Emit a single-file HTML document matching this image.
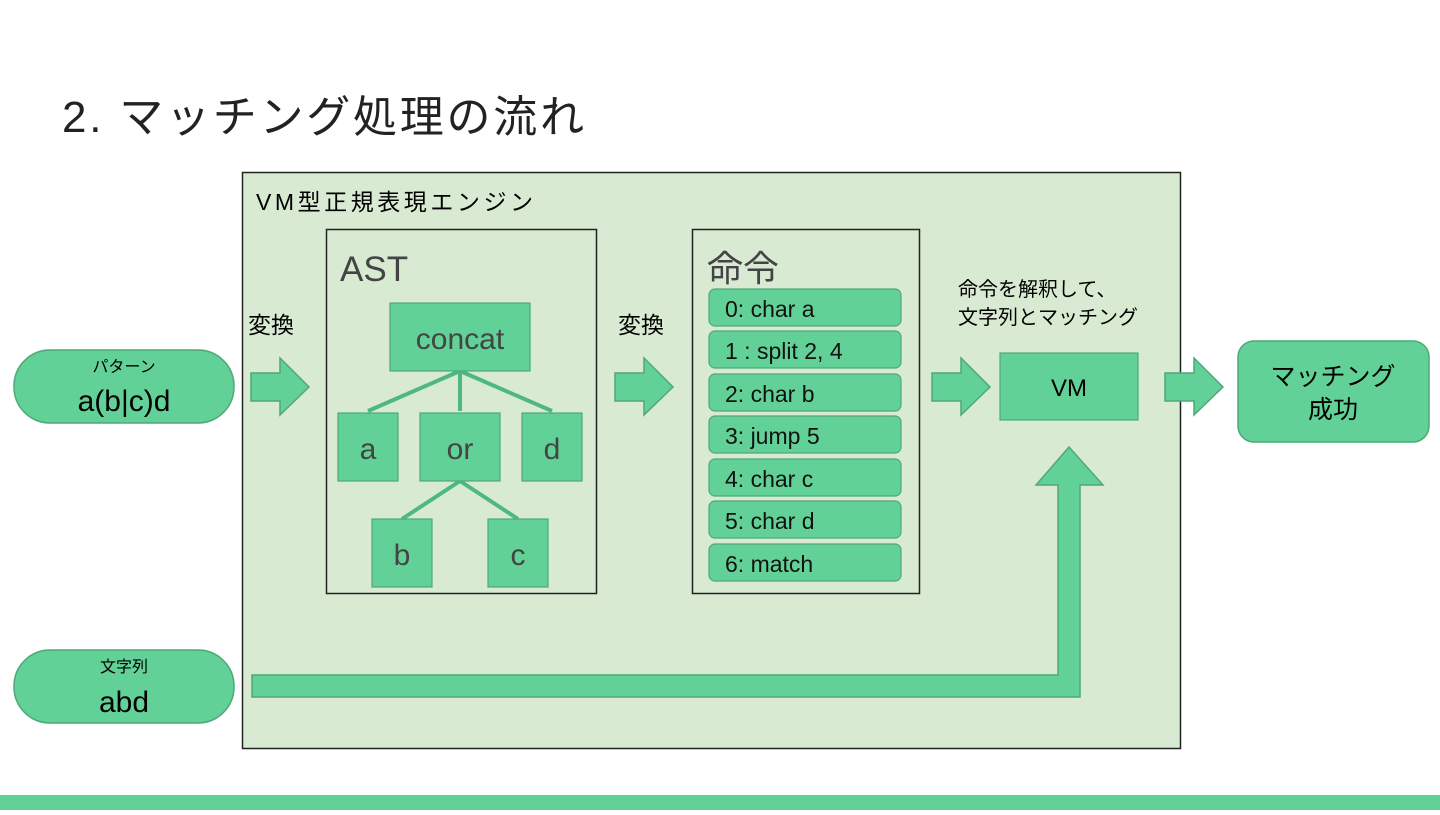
<!DOCTYPE html>
<html><head><meta charset="utf-8"><style>
body{margin:0;width:1440px;height:810px;background:#fff;overflow:hidden}
svg text{font-family:"Liberation Sans","Noto Sans CJK JP",sans-serif}
</style></head><body>
<svg width="1440" height="810" xmlns="http://www.w3.org/2000/svg">
<text x="62" y="132" font-size="44" fill="#222" textLength="522" lengthAdjust="spacing">2. マッチング処理の流れ</text>
<rect x="242.5" y="172.5" width="938" height="576" fill="#d9ead3" stroke="#222" stroke-width="1.5"/>
<text x="256" y="210" font-size="23" fill="#000" textLength="277" lengthAdjust="spacing">VM型正規表現エンジン</text>
<g fill="#62d197" stroke="#4fa878" stroke-width="1.5">
<rect x="14" y="350" width="220" height="73" rx="36"/>
<rect x="14" y="650" width="220" height="73" rx="36"/>
<rect x="1238" y="341" width="191" height="101" rx="16"/>
<path d="M251 373H280V358L309 387L280 415V401H251Z"/>
<path d="M615 373H644V358L673 387L644 415V401H615Z"/>
<path d="M932 373H961V358L990 387L961 415V401H932Z"/>
<path d="M1165 373H1194V358L1223 387L1194 415V401H1165Z"/>
<path d="M252 675H1058V485H1036L1069 447L1103 485H1080V697H252Z"/>
</g>
<text x="124" y="372" font-size="16" text-anchor="middle">パターン</text>
<text x="124" y="411" font-size="30" text-anchor="middle">a(b|c)d</text>
<text x="124" y="672" font-size="16" text-anchor="middle">文字列</text>
<text x="124" y="712" font-size="30" text-anchor="middle">abd</text>
<text x="1333" y="385" font-size="25" text-anchor="middle">マッチング</text>
<text x="1333" y="418" font-size="25" text-anchor="middle">成功</text>
<text x="248" y="333" font-size="23">変換</text>
<text x="618" y="333" font-size="23">変換</text>
<text x="958" y="296" font-size="20">命令を解釈して、</text>
<text x="958" y="324" font-size="20">文字列とマッチング</text>
<rect x="326.5" y="229.5" width="270" height="364" fill="none" stroke="#222" stroke-width="1.5"/>
<text x="340" y="281" font-size="35" fill="#444">AST</text>
<g stroke="#4fb882" stroke-width="4">
<line x1="460" y1="371" x2="368" y2="411"/><line x1="460" y1="371" x2="460" y2="411"/><line x1="460" y1="371" x2="552" y2="411"/>
<line x1="460" y1="481" x2="402" y2="519"/><line x1="460" y1="481" x2="518" y2="519"/>
</g>
<g fill="#62d197" stroke="#4fa878" stroke-width="1.2">
<rect x="390" y="303" width="140" height="68"/>
<rect x="338" y="413" width="60" height="68"/>
<rect x="420" y="413" width="80" height="68"/>
<rect x="522" y="413" width="60" height="68"/>
<rect x="372" y="519" width="60" height="68"/>
<rect x="488" y="519" width="60" height="68"/>
<rect x="1000" y="353" width="138" height="67"/>
</g>
<g font-size="30" fill="#444" text-anchor="middle">
<text x="460" y="349">concat</text>
<text x="368" y="459">a</text><text x="460" y="459">or</text><text x="552" y="459">d</text>
<text x="402" y="565">b</text><text x="518" y="565">c</text>
</g>
<text x="1069" y="396" font-size="24" text-anchor="middle">VM</text>
<rect x="692.5" y="229.5" width="227" height="364" fill="none" stroke="#222" stroke-width="1.5"/>
<text x="707" y="281" font-size="36" fill="#444">命令</text>
<g fill="#62d197" stroke="#4fa878" stroke-width="1.2">
<rect x="709" y="289" width="192" height="37" rx="6"/>
<rect x="709" y="331" width="192" height="37" rx="6"/>
<rect x="709" y="374" width="192" height="37" rx="6"/>
<rect x="709" y="416" width="192" height="37" rx="6"/>
<rect x="709" y="459" width="192" height="37" rx="6"/>
<rect x="709" y="501" width="192" height="37" rx="6"/>
<rect x="709" y="544" width="192" height="37" rx="6"/>
</g>
<g font-size="23" fill="#111">
<text x="725" y="317">0: char a</text>
<text x="725" y="359">1 : split 2, 4</text>
<text x="725" y="402">2: char b</text>
<text x="725" y="444">3: jump 5</text>
<text x="725" y="487">4: char c</text>
<text x="725" y="529">5: char d</text>
<text x="725" y="572">6: match</text>
</g>
<rect x="0" y="795" width="1440" height="15" fill="#62d197"/>
</svg>
</body></html>
